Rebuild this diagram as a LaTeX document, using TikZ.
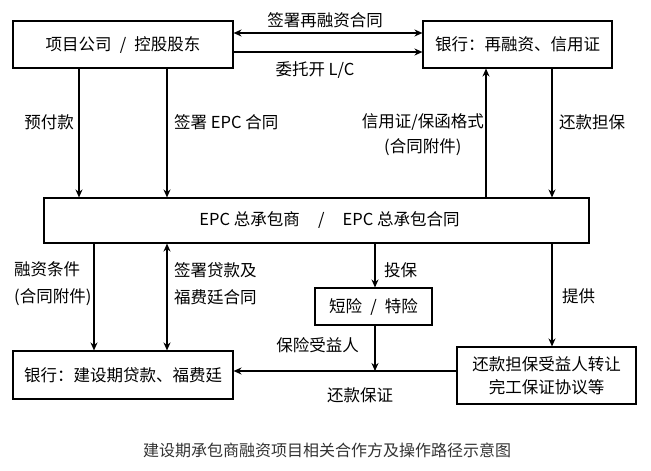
\documentclass[tikz,border=0pt]{standalone}
\usepackage{fontspec}
\setmainfont{Noto Sans CJK SC}
\usepackage{tikz}
\usetikzlibrary{arrows.meta}
\tikzstyle{box} = [draw, line width=1.1pt, inner sep=0pt, align=center]
\tikzstyle{arrow} = [line width=1.1pt,-{Stealth[length=8pt,width=7pt]}]
\tikzstyle{dblarrow} = [line width=1.1pt,{Stealth[length=8pt,width=7pt]}-{Stealth[length=8pt,width=7pt]}]
\tikzstyle{lbl} = [inner sep=0pt]

\begin{document}
\begin{tikzpicture}[x=1pt,y=-1pt,font=\fontsize{16.5}{27}\selectfont]
\useasboundingbox (0,0) rectangle (651,471);
% boxes
\node[box, minimum width=220pt, minimum height=47pt] (owner) at (123,44.5) {项目公司\hspace{0.5em}/\hspace{0.5em}控股股东};
\node[box, minimum width=189pt, minimum height=47pt] (refibank) at (517.5,44.5) {银行：再融资、信用证};
\node[box, minimum width=545pt, minimum height=45pt] (epc) at (316.5,220.5) {\hspace*{26pt}EPC 总承包商\hspace{1.1em}/\hspace{1.1em}EPC 总承包合同};
\node[box, minimum width=117pt, minimum height=37pt] (ins) at (373.5,306.5) {短险\hspace{0.5em}/\hspace{0.5em}特险};
\node[box, minimum width=220pt, minimum height=48pt] (loanbank) at (123,375) {银行：建设期贷款、福费廷};
\node[box, minimum width=179pt, minimum height=57pt, font=\fontsize{16.5}{23}\selectfont] (guar) at (546.5,375.5) {还款担保受益人转让\\完工保证协议等};
\coordinate (join) at (375,371);

% top links
\draw[dblarrow] (owner.east |- 0,33) -- (refibank.west |- 0,33);
\draw[arrow] (owner.east |- 0,52) -- (refibank.west |- 0,52);
\node[lbl] (refi) at (325,20) {签署再融资合同};
\node[lbl] (lc) at (315,70) {委托开 L/C};

% owner and bank to EPC
\draw[arrow] (owner.south -| 79,0) -- (epc.north -| 79,0);
\draw[arrow] (owner.south -| 167,0) -- (epc.north -| 167,0);
\draw[arrow] (epc.north -| 486,0) -- (refibank.south -| 486,0);
\draw[arrow] (refibank.south -| 552,0) -- (epc.north -| 552,0);
\node[lbl, anchor=east] (prepay) at (74,122) {预付款};
\node[lbl, anchor=west] (signepc) at (174,122) {签署 EPC 合同};
\node[lbl, anchor=east, align=center, font=\fontsize{16.5}{25}\selectfont] (lcform) at (484,134.5) {信用证/保函格式\\(合同附件)};
\node[lbl, anchor=west] (repay) at (559,122) {还款担保};

% EPC to lower boxes
\draw[arrow] (epc.south -| 94,0) -- (loanbank.north -| 94,0);
\draw[dblarrow] (epc.south -| 167,0) -- (loanbank.north -| 167,0);
\draw[arrow] (epc.south -| 375,0) -- (ins.north -| 375,0);
\draw[arrow] (ins.south -| 375,0) -- (join);
\draw[arrow] (epc.south -| 552,0) -- (guar.north -| 552,0);
\draw[arrow] (guar.west |- join) -- (loanbank.east |- join);
\node[lbl, anchor=west, align=left] (cond) at (14,283.5) {融资条件\\(合同附件)};
\node[lbl, anchor=west, align=left] (signloan) at (174,283.5) {签署贷款及\\福费廷合同};
\node[lbl, anchor=west] (insure) at (384,270) {投保};
\node[lbl, anchor=west] (provide) at (562,296) {提供};
\node[lbl, anchor=east] (benef) at (359,345) {保险受益人};
\node[lbl] (repayg) at (360,395) {还款保证};

% caption
\node[lbl, text=black!80, font=\fontsize{16}{20}\selectfont] (caption) at (327,450) {建设期承包商融资项目相关合作方及操作路径示意图};
\end{tikzpicture}
\end{document}
